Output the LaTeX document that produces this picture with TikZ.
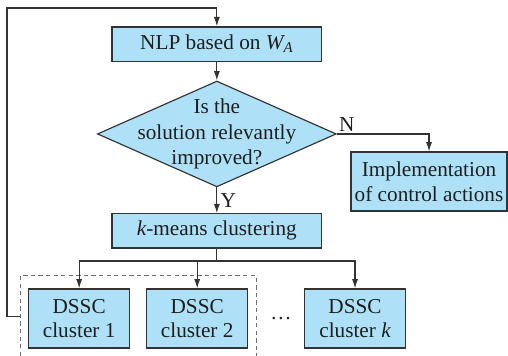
\documentclass[tikz,border=0pt]{standalone}
\usepackage{fontspec}
\setmainfont{Liberation Serif}
\usepackage{xcolor}
\definecolor{boxc}{HTML}{AEE1F7}
\definecolor{linec}{HTML}{333333}
\definecolor{dashc}{HTML}{6E6E6E}
\definecolor{textc}{HTML}{1E1E1E}
\usepackage{tikz}
\usetikzlibrary{arrows.meta,positioning,calc,shapes.geometric}
\tikzset{
  >={Latex[length=2mm,width=1.3mm]},
  blk/.style={draw=linec,line width=0.7pt,fill=boxc,minimum width=4.48cm,minimum height=7.3mm,inner sep=1pt,font=\fontsize{12.9}{15}\selectfont,text=textc,align=center},
  sblk/.style={blk,minimum width=2.16cm,minimum height=1.26cm},
  chkbox/.style={diamond,draw=linec,line width=0.7pt,fill=boxc,minimum width=5.1cm,minimum height=2.26cm,inner sep=0pt},
  txt/.style={font=\fontsize{12.9}{15.5}\selectfont,text=textc,align=center},
  flow/.style={->,line width=0.7pt,draw=linec},
  wire/.style={line width=0.7pt,draw=linec},
  grp/.style={draw=dashc,line width=0.7pt,dash pattern=on 2.6pt off 2pt},
}

\begin{document}
\begin{tikzpicture}
  \useasboundingbox (0,0) rectangle (10.846,-7.6);
  % main loop
  \node[blk] (nlp) at (4.63,-0.94) {NLP based on $\mathit{W}_{\mathit{A}}$};
  \node[chkbox] (chk) at (4.63,-2.86) {};
  \node[txt] (chkt) at (chk) {Is the\\solution relevantly\\improved?};
  \node[blk,minimum width=3.33cm,minimum height=1.26cm] (impl) at (9.16,-3.875) {Implementation\\of control actions};
  \node[blk] (km) at (4.63,-4.93) {$\mathit{k}$-means clustering};
  % clusters
  \node[sblk] (c1) at (1.69,-6.80) {DSSC\\cluster 1};
  \node[sblk] (c2) at (4.21,-6.80) {DSSC\\cluster 2};
  \node[sblk] (ck) at (7.58,-6.80) {DSSC\\cluster $\mathit{k}$};
  \node[txt] (dots) at (6.0,-6.80) {\dots};
  \draw[grp] (0.43,-7.6) |- (5.47,-5.89) -- (5.47,-7.6);
  \coordinate (fb) at (0.43,-6.75);
  % connectors
  \draw[flow] (nlp.south) -- (chk.north);
  \draw[flow] (chk.east) node[txt,above right,inner sep=1pt] {N} -| (impl.north);
  \draw[flow] (chk.south) -- node[txt,right,inner sep=2pt] {Y} (km.north);
  \draw[wire] (km.south) -- (km.south |- 0,-5.572) coordinate (bus);
  \draw[flow] (bus) -| (c1.north);
  \draw[flow] (bus) -| (c2.north);
  \draw[flow] (bus) -| (ck.north);
  \draw[flow] (fb) -| (0.149,-0.171) -| (nlp.north);
\end{tikzpicture}
\end{document}
